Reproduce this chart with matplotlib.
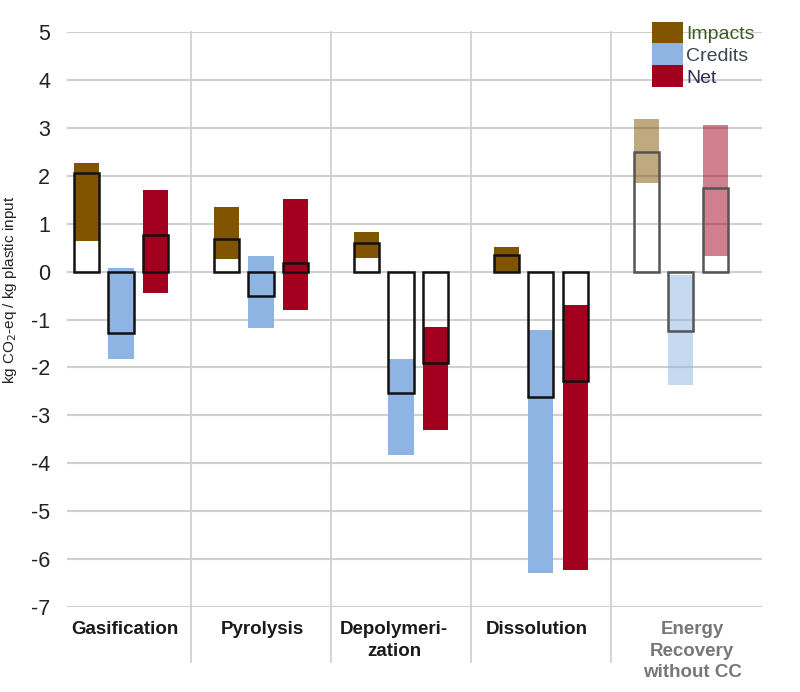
import numpy as np
import matplotlib
matplotlib.use('Agg')
import matplotlib.pyplot as plt
from matplotlib.patches import Patch

plt.rcParams['font.family'] = ['Liberation Sans', 'DejaVu Sans']
plt.rcParams['axes.unicode_minus'] = False

categories = ['Gasification', 'Pyrolysis', 'Depolymeri-\nzation', 'Dissolution',
              'Energy\nRecovery\nwithout CC']
series = ['Impacts', 'Credits', 'Net']

# range (low, high) and central value per category
impacts_low = [0.64, 0.27, 0.29, 0.0, 1.84]
impacts_high = [2.26, 1.35, 0.83, 0.52, 3.19]
impacts_mid = [2.06, 0.69, 0.59, 0.34, 2.50]

credits_low = [-1.82, -1.17, -3.83, -6.29, -2.37]
credits_high = [0.07, 0.33, -1.82, -1.22, -0.07]
credits_mid = [-1.29, -0.50, -2.53, -2.61, -1.23]

net_low = [-0.44, -0.80, -3.31, -6.23, 0.33]
net_high = [1.70, 1.51, -1.15, -0.70, 3.05]
net_mid = [0.76, 0.17, -1.91, -2.28, 1.75]

colors = ['#815400', '#8db4e2', '#a3001f']
legend_text_colors = ['#3d5a22', '#3b474d', '#2f2f50']

lows = [impacts_low, credits_low, net_low]
highs = [impacts_high, credits_high, net_high]
mids = [impacts_mid, credits_mid, net_mid]

fig = plt.figure(figsize=(8, 6.92), dpi=100)
ax = fig.add_axes([67 / 800, 85 / 692, 695 / 800, 575 / 692])

x = np.arange(len(categories))
offsets = [-0.248, 0.0, 0.245]
width = 0.18

for i in range(3):
    for j in range(len(categories)):
        faded = j == len(categories) - 1
        a = 0.5 if faded else 1.0
        ax.bar(x[j] + offsets[i], highs[i][j] - lows[i][j], width, bottom=lows[i][j],
               color=colors[i], alpha=a, linewidth=0, zorder=2)
        ax.bar(x[j] + offsets[i], mids[i][j], width, bottom=0, fill=False,
               edgecolor='#555555' if faded else '#111111', linewidth=1.8, zorder=3)

ax.set_xlim(-0.386, 4.58)
ax.set_ylim(-7, 5)
ax.set_yticks(range(-7, 6))
ax.tick_params(axis='y', length=0, labelsize=15.5, pad=12, labelcolor='#222222')
ax.set_xticks([])
ax.grid(axis='y', color='#d0d0d0', linewidth=1.5, zorder=0)
for s in ax.spines.values():
    s.set_visible(False)

# group separators
for b in [0.5, 1.5, 2.5, 3.5]:
    ax.plot([b, b], [5, -8.15], color='#cccccc', linewidth=1.2, clip_on=False, zorder=1)

label_x = [0.03, 1.01, 1.95, 2.97, 4.08]
for j, lab in enumerate(categories):
    ax.text(label_x[j], -7.3, lab, ha='center', va='top', fontsize=13.5, fontweight='bold',
            color='#777777' if j == 4 else '#1a1a1a', linespacing=1.35)

fig.text(10 / 800, 1 - 290 / 692, 'kg CO$_2$-eq / kg plastic input', rotation=90,
         ha='center', va='center', fontsize=11, color='#222222')

handles = [Patch(facecolor=c, edgecolor='none') for c in colors]
leg = ax.legend(handles, series, loc='upper left', bbox_to_anchor=(0.828, 1.035),
                frameon=False, fontsize=14, handlelength=1.6, handleheight=1.35,
                labelspacing=0.0, handletextpad=0.15, borderpad=0)
for t, c in zip(leg.get_texts(), legend_text_colors):
    t.set_color(c)

fig.savefig('out.png', dpi=100)
